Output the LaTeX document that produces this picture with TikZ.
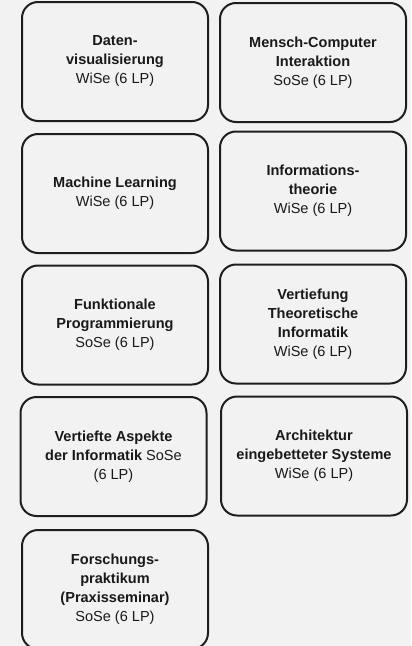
\documentclass[tikz,border=0pt]{standalone}
\usepackage{fontspec}
\setmainfont{Liberation Sans}
\definecolor{bggray}{HTML}{F2F2F2}
\definecolor{edgegray}{HTML}{1E1E1E}
\tikzset{
  modul/.style={draw=edgegray, line width=1.5pt, rounded corners=12pt,
    minimum width=139.5pt, minimum height=89.25pt, align=center,
    font=\fontsize{10.9}{14.25}\selectfont, text=black!90},
}

\begin{document}
\begin{tikzpicture}[x=0.75pt, y=-0.75pt]
  \fill[bggray] (0,0) rectangle (411,646);
  \useasboundingbox (0,0) rectangle (411,646);
  \clip (0,0) rectangle (411,646);
  % Zeile 1
  \node[modul] (datvis) at (115,61.5) {\textbf{Daten-}\\\textbf{visualisierung}\\WiSe (6 LP)};
  \node[modul] (mci) at (313,62.5) {\textbf{Mensch-Computer}\\\textbf{Interaktion}\\SoSe (6 LP)};
  % Zeile 2
  \node[modul] (ml) at (115,193.5) {\textbf{Machine Learning}\\WiSe (6 LP)};
  \node[modul] (infth) at (313,191) {\textbf{Informations-}\\\textbf{theorie}\\WiSe (6 LP)};
  % Zeile 3
  \node[modul] (fp) at (115,325) {\textbf{Funktionale}\\\textbf{Programmierung}\\SoSe (6 LP)};
  \node[modul] (vti) at (313,324) {\textbf{Vertiefung}\\\textbf{Theoretische}\\\textbf{Informatik}\\WiSe (6 LP)};
  % Zeile 4
  \node[modul] (vai) at (113.5,456.5) {\textbf{Vertiefte Aspekte}\\\textbf{der Informatik} SoSe\\(6 LP)};
  \node[modul] (aes) at (314,456) {\textbf{Architektur}\\\textbf{eingebetteter Systeme}\\WiSe (6 LP)};
  % Zeile 5
  \node[modul] (fprak) at (115,589.5) {\textbf{Forschungs-}\\\textbf{praktikum}\\\textbf{(Praxisseminar)}\\SoSe (6 LP)};
\end{tikzpicture}
\end{document}
